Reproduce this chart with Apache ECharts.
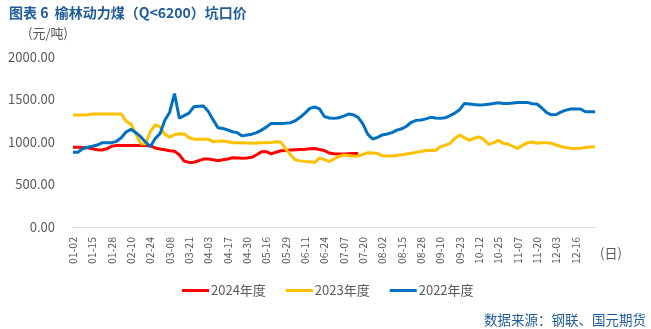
<!DOCTYPE html>
<html>
<head>
<meta charset="utf-8">
<script src="https://cdn.jsdelivr.net/npm/echarts@6/dist/echarts.min.js"></script>
<style>html,body{margin:0;padding:0;background:#fff}#c{width:651px;height:329px}</style>
</head>
<body>
<div id="c"></div>
<script>
// Tick labels shown on the x axis (every 4th category)
var tickLabels = ['01-02','01-15','01-28','02-10','02-24','03-08','03-21','04-03','04-17','04-30','05-16','05-29','06-11','06-24','07-07','07-20','08-02','08-15','08-28','09-10','09-23','10-12','10-25','11-07','11-20','12-03','12-16'];
var tailLabels = ['12-19','12-22','12-25','12-28'];

// Series values (元/吨), one value per category
var s2024 = [937,937,935,933,920,908,905,920,950,958,960,960,960,960,960,960,955,930,918,908,898,890,850,775,760,762,780,799,799,790,780,792,800,815,812,808,812,820,850,886,886,860,880,897,900,905,910,913,916,920,923,912,900,870,862,858,860,863,865,866];
var s2023 = [1317,1317,1317,1320,1329,1329,1329,1329,1329,1329,1329,1245,1210,1100,980,976,1121,1200,1180,1090,1058,1086,1098,1095,1050,1035,1031,1031,1031,1004,1010,1012,1004,992,992,992,988,984,988,992,992,995,1004,1000,920,850,790,778,772,768,758,810,795,770,800,830,847,840,833,835,855,874,870,865,838,835,835,840,850,860,868,878,888,900,903,900,945,960,985,1040,1082,1050,1020,1045,1060,1030,972,990,1020,984,976,950,925,960,990,1000,986,992,992,985,965,945,935,925,925,927,935,940,945];
var s2022 = [880,880,920,938,950,964,990,992,992,1008,1050,1120,1149,1110,1063,1000,945,1040,1098,1255,1350,1570,1280,1310,1340,1415,1420,1423,1360,1260,1168,1160,1141,1121,1110,1072,1082,1092,1110,1140,1175,1219,1219,1219,1222,1227,1250,1290,1340,1395,1412,1390,1300,1283,1278,1285,1305,1329,1320,1290,1210,1090,1035,1055,1083,1095,1110,1140,1155,1185,1232,1255,1259,1272,1290,1282,1278,1285,1310,1340,1380,1454,1447,1440,1435,1437,1445,1452,1462,1454,1454,1458,1466,1466,1466,1450,1447,1400,1345,1320,1323,1355,1375,1388,1388,1388,1356,1356,1356];

var yTicks = [0, 500, 1000, 1500, 2000];

// Build categories: between tick labels insert 3 intermediate dates
function toDay(s){var p=s.split('-');return Date.UTC(2024,+p[0]-1,+p[1]);}
function fmt(t){var d=new Date(t);var m=d.getUTCMonth()+1,dd=d.getUTCDate();return (m<10?'0':'')+m+'-'+(dd<10?'0':'')+dd;}
var categories = [];
for (var i=0;i<tickLabels.length;i++){
  categories.push(tickLabels[i]);
  if (i<tickLabels.length-1){
    var a=toDay(tickLabels[i]), b=toDay(tickLabels[i+1]);
    for (var k=1;k<4;k++){
      var t=a+Math.round((b-a)/86400000*k/4)*86400000;
      var lab=fmt(t);
      if (categories.indexOf(lab)>=0) lab=lab+' ';
      categories.push(lab);
    }
  }
}
categories = categories.concat(tailLabels);
var lastTick = (tickLabels.length-1)*4;

var chart = echarts.init(document.getElementById('c'));
var txt = '#595959';
var font = '"Noto Sans CJK SC","Noto Sans",sans-serif';
chart.setOption({
  animation:false,
  textStyle:{fontFamily:font},
  title:[
    {text:'图表 6  榆林动力煤（Q<6200）坑口价',left:4,top:1,textStyle:{fontSize:14,fontWeight:'bold',color:'#1F5C9A',fontFamily:font}},
    {text:'(元/吨)',left:23,top:22,textStyle:{fontSize:13,fontWeight:'normal',color:txt,fontFamily:font}},
    {text:'(日)',left:595,top:242,textStyle:{fontSize:13,fontWeight:'normal',color:txt,fontFamily:font}},
    {text:'数据来源：钢联、国元期货',left:479,top:308,textStyle:{fontSize:13.5,fontWeight:'normal',color:'#1F5C9A',fontFamily:font}}
  ],
  legend:{
    left:177, top:279, itemWidth:27, itemHeight:3, itemGap:20,
    icon:'rect',
    textStyle:{fontSize:13,color:txt,fontFamily:font,padding:[0,0,0,-3]},
    data:['2024年度','2023年度','2022年度']
  },
  grid:{left:73,right:56,top:57,bottom:102,containLabel:false},
  xAxis:{
    type:'category', boundaryGap:false, data:categories,
    axisLine:{lineStyle:{color:'#D9D9D9'}},
    axisTick:{show:false},
    axisLabel:{rotate:90,fontSize:10.5,color:txt,margin:10,
      interval:function(idx){return idx%4===0 && idx<=lastTick;},
      formatter:function(v){return v.trim();}}
  },
  yAxis:{
    type:'value', min:yTicks[0], max:yTicks[yTicks.length-1], interval:500,
    axisLine:{show:false}, axisTick:{show:false}, splitLine:{show:false},
    axisLabel:{fontSize:13,color:txt,margin:18,formatter:function(v){return v.toFixed(2);}}
  },
  series:[
    {name:'2024年度',type:'line',data:s2024,showSymbol:false,symbol:'none',lineStyle:{width:3,color:'#FF0000'},itemStyle:{color:'#FF0000'}},
    {name:'2023年度',type:'line',data:s2023,showSymbol:false,symbol:'none',lineStyle:{width:3,color:'#FFC000'},itemStyle:{color:'#FFC000'}},
    {name:'2022年度',type:'line',data:s2022,showSymbol:false,symbol:'none',lineStyle:{width:3,color:'#0070C0'},itemStyle:{color:'#0070C0'}}
  ]
});
</script>
</body>
</html>
